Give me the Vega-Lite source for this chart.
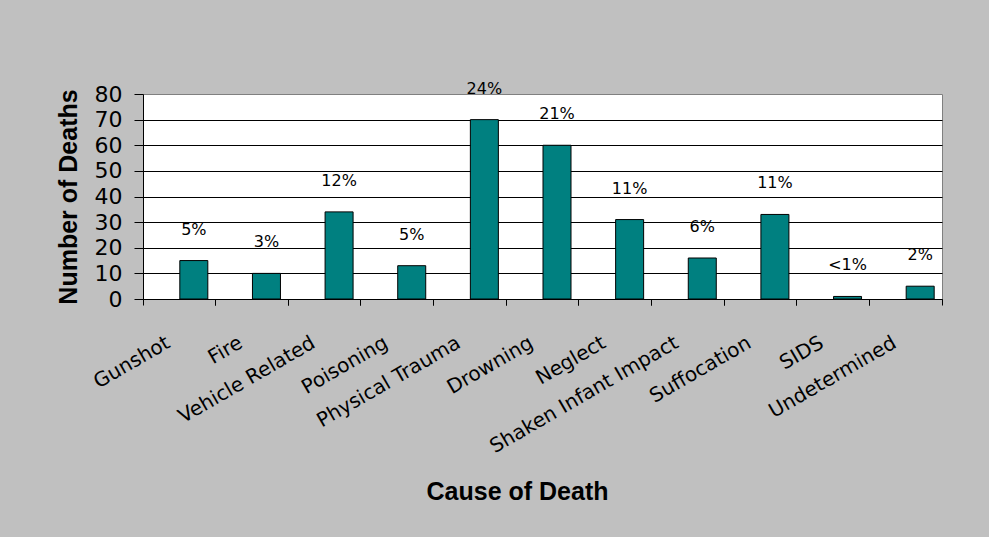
{
  "$schema": "https://vega.github.io/schema/vega-lite/v6.json",
  "width": 799,
  "height": 205,
  "autosize": {"type": "none"},
  "padding": {"left": 143, "top": 94, "right": 47, "bottom": 238},
  "background": "#c0c0c0",
  "config": {"view": {"fill": "white", "stroke": "#808080", "strokeWidth": 1}},
  "data": {
    "values": [
      {"cause": "Gunshot", "deaths": 15, "pct": "5%"},
      {"cause": "Fire", "deaths": 10, "pct": "3%"},
      {"cause": "Vehicle Related", "deaths": 34, "pct": "12%"},
      {"cause": "Poisoning", "deaths": 13, "pct": "5%"},
      {"cause": "Physical Trauma", "deaths": 70, "pct": "24%"},
      {"cause": "Drowning", "deaths": 60, "pct": "21%"},
      {"cause": "Neglect", "deaths": 31, "pct": "11%"},
      {"cause": "Shaken Infant Impact", "deaths": 16, "pct": "6%"},
      {"cause": "Suffocation", "deaths": 33, "pct": "11%"},
      {"cause": "SIDS", "deaths": 1, "pct": "<1%"},
      {"cause": "Undetermined", "deaths": 5, "pct": "2%"}
    ]
  },
  "layer": [
    {
      "mark": {"type": "bar", "fill": "#008080", "stroke": "black", "strokeWidth": 1, "width": 28, "xOffset": 14.5},
      "encoding": {
        "x": {
          "field": "cause", "type": "nominal", "sort": null,
          "scale": {"paddingInner": 0, "paddingOuter": 0},
          "axis": {
            "title": "Cause of Death",
            "bandPosition": 0,
            "grid": false,
            "labelAngle": -30,
            "labelAlign": "right",
            "labelBaseline": "middle",
            "labelPadding": 36,
            "labelOffset": -11,
            "labelLimit": 0,
            "labelOverlap": false,
            "labelFont": "DejaVu Sans",
            "labelFontSize": 20,
            "labelColor": "black",
            "tickColor": "black",
            "tickSize": 6,
            "domainColor": "black",
            "titleFont": "Liberation Sans",
            "titleFontSize": 25,
            "titleFontWeight": "bold",
            "titleColor": "black",
            "titleX": 374,
            "titleY": 200,
            "titleBaseline": "alphabetic"
          }
        },
        "y": {
          "field": "deaths", "type": "quantitative",
          "scale": {"domain": [0, 80]},
          "axis": {
            "orient": "left",
            "title": null,
            "values": [0, 10, 20, 30, 40, 50, 60, 70],
            "grid": true,
            "gridColor": "black",
            "gridOpacity": 1,
            "labels": false,
            "ticks": false,
            "domain": false
          }
        }
      }
    },
    {
      "mark": {"type": "text", "xOffset": 14.5, "dy": -31, "baseline": "middle", "font": "DejaVu Sans", "fontSize": 16, "color": "black"},
      "encoding": {
        "x": {
          "field": "cause", "type": "nominal", "sort": null,
          "axis": {"orient": "bottom", "bandPosition": 1, "labels": false, "domain": false, "title": null, "grid": false, "tickColor": "black", "tickSize": 6}
        },
        "y": {
          "field": "deaths", "type": "quantitative",
          "scale": {"domain": [0, 80]},
          "axis": {
            "orient": "left",
            "title": "Number of Deaths",
            "values": [0, 10, 20, 30, 40, 50, 60, 70, 80],
            "labelOverlap": false,
            "grid": false,
            "labelFont": "DejaVu Sans",
            "labelFontSize": 22,
            "labelColor": "black",
            "labelPadding": 12,
            "tickColor": "black",
            "tickSize": 9,
            "domainColor": "black",
            "titleFont": "Liberation Sans",
            "titleFontSize": 25,
            "titleFontWeight": "bold",
            "titleColor": "black",
            "titlePadding": 13
          }
        },
        "text": {"field": "pct"}
      }
    }
  ],
  "resolve": {"axis": {"x": "independent", "y": "independent"}}
}
